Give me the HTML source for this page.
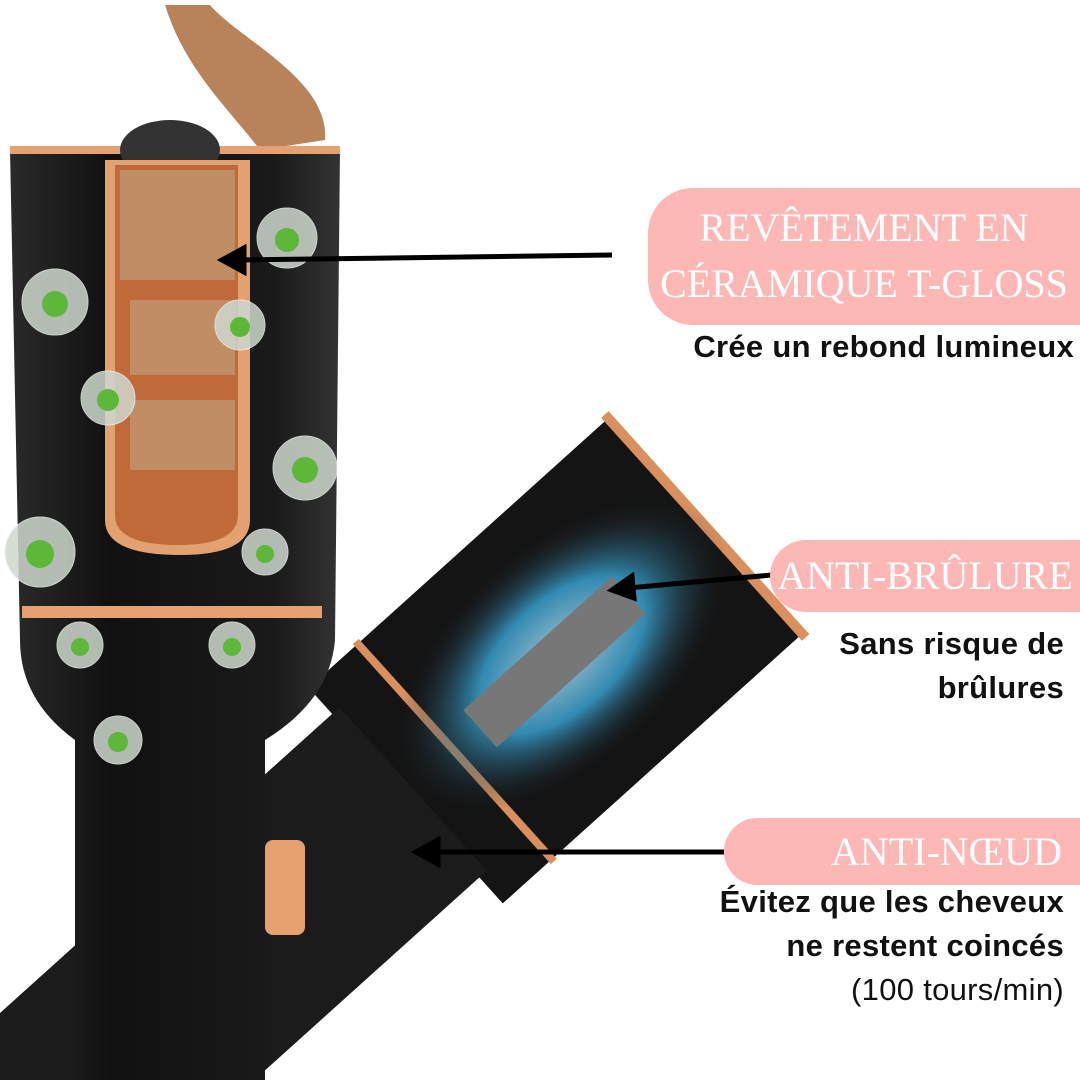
<!DOCTYPE html>
<html style="overflow:hidden"><head><meta charset="utf-8"><style>
html,body{margin:0;width:1080px;height:1080px;overflow:hidden}
body{background:#fff;position:relative;font-family:"Liberation Sans",sans-serif}
.pill{position:absolute;background:#fdb8b5;color:#fff;font-family:"Liberation Serif",serif;text-align:center;border-radius:45px 0 0 45px;line-height:1.2}
.sub{position:absolute;right:16px;text-align:right;font-weight:bold;color:#111;font-size:31px;line-height:44px;letter-spacing:0.3px;white-space:nowrap}
</style></head><body>
<svg width="1080" height="1080" style="position:absolute;left:0;top:0">
<defs>
<linearGradient id="bk" x1="0" x2="1"><stop offset="0" stop-color="#2a2a2a"/><stop offset="0.3" stop-color="#111"/><stop offset="0.8" stop-color="#1a1a1a"/><stop offset="1" stop-color="#333"/></linearGradient>
<radialGradient id="glow"><stop offset="0" stop-color="#cfeeff"/><stop offset="0.5" stop-color="#3aa8d8"/><stop offset="1" stop-color="#1a1a1a" stop-opacity="0"/></radialGradient>
</defs>
<g transform="translate(703,528) rotate(138)">
<rect x="0" y="-145" width="400" height="290" fill="#141414"/>
<rect x="390" y="-110" width="600" height="220" fill="#1b1b1b"/>
<rect x="-8" y="-150" width="10" height="300" fill="#d98f5e"/>
<rect x="330" y="-148" width="8" height="296" fill="#d98f5e"/>
<ellipse cx="190" cy="0" rx="200" ry="110" fill="url(#glow)" opacity="0.8"/>
<rect x="100" y="-25" width="200" height="50" fill="#777"/>
</g>
<path d="M165,5 L210,5 C240,40 330,80 325,140 L260,150 C230,110 185,70 165,5Z" fill="#b8835a"/>
<path d="M10,150 L340,150 L335,640 Q330,700 265,740 L265,1080 L75,1080 L75,740 Q20,700 20,640Z" fill="url(#bk)"/>
<rect x="10" y="146" width="330" height="8" fill="#e7a170"/>
<rect x="22" y="606" width="300" height="12" fill="#e7a170"/>
<ellipse cx="170" cy="150" rx="50" ry="30" fill="#333"/>
<path d="M105,160 L250,160 L250,520 Q250,555 180,555 Q105,555 105,520Z" fill="#e3a071"/>
<path d="M115,165 L238,165 L238,515 Q238,545 178,545 Q115,545 115,515Z" fill="#c06a3a"/>
<rect x="120" y="170" width="115" height="110" fill="#c08d64"/>
<rect x="130" y="300" width="105" height="75" fill="#c08d64"/>
<rect x="130" y="400" width="105" height="70" fill="#c08d64"/>
<g fill="#cfd8cf" stroke="#eee" opacity="0.85">
<circle cx="287" cy="238" r="30"/><circle cx="55" cy="302" r="33"/><circle cx="240" cy="325" r="25"/><circle cx="108" cy="398" r="27"/><circle cx="305" cy="468" r="32"/><circle cx="40" cy="552" r="35"/><circle cx="265" cy="552" r="23"/><circle cx="80" cy="645" r="23"/><circle cx="232" cy="645" r="23"/><circle cx="118" cy="740" r="24"/>
</g>
<g fill="#5db83a">
<circle cx="287" cy="240" r="12"/><circle cx="55" cy="304" r="13"/><circle cx="240" cy="327" r="10"/><circle cx="108" cy="400" r="11"/><circle cx="305" cy="470" r="13"/><circle cx="40" cy="554" r="14"/><circle cx="265" cy="554" r="9"/><circle cx="80" cy="647" r="9"/><circle cx="232" cy="647" r="9"/><circle cx="118" cy="742" r="10"/>
</g>
<rect x="265" y="840" width="40" height="95" rx="8" fill="#e7a170"/>
<g stroke="#000" stroke-width="5" fill="#000">
<line x1="612" y1="255" x2="240" y2="260"/><path d="M222,260 L244,248 L244,272Z"/>
<line x1="772" y1="575" x2="628" y2="588"/><path d="M612,590 L632,576 L634,598Z"/>
<line x1="724" y1="852" x2="432" y2="852"/><path d="M416,852 L438,840 L438,864Z"/>
</g>
</svg>
<div class="pill" style="left:648px;top:188px;width:432px;height:137px;font-size:40px;line-height:56px;padding-top:12px;box-sizing:border-box">REVÊTEMENT EN<br>CÉRAMIQUE T-GLOSS</div>
<div class="sub" style="top:325px;right:6px">Crée un rebond lumineux</div>
<div class="pill" style="left:770px;top:540px;width:310px;height:72px;font-size:40px;line-height:72px">ANTI-BRÛLURE</div>
<div class="sub" style="top:622px">Sans risque de<br>brûlures</div>
<div class="pill" style="left:724px;top:818px;width:356px;height:67px;font-size:40px;line-height:67px;text-align:right;padding-right:18px;box-sizing:border-box">ANTI-NŒUD</div>
<div class="sub" style="top:880px">Évitez que les cheveux<br>ne restent coincés<br><span style="font-weight:normal">(100 tours/min)</span></div>
</body></html>
